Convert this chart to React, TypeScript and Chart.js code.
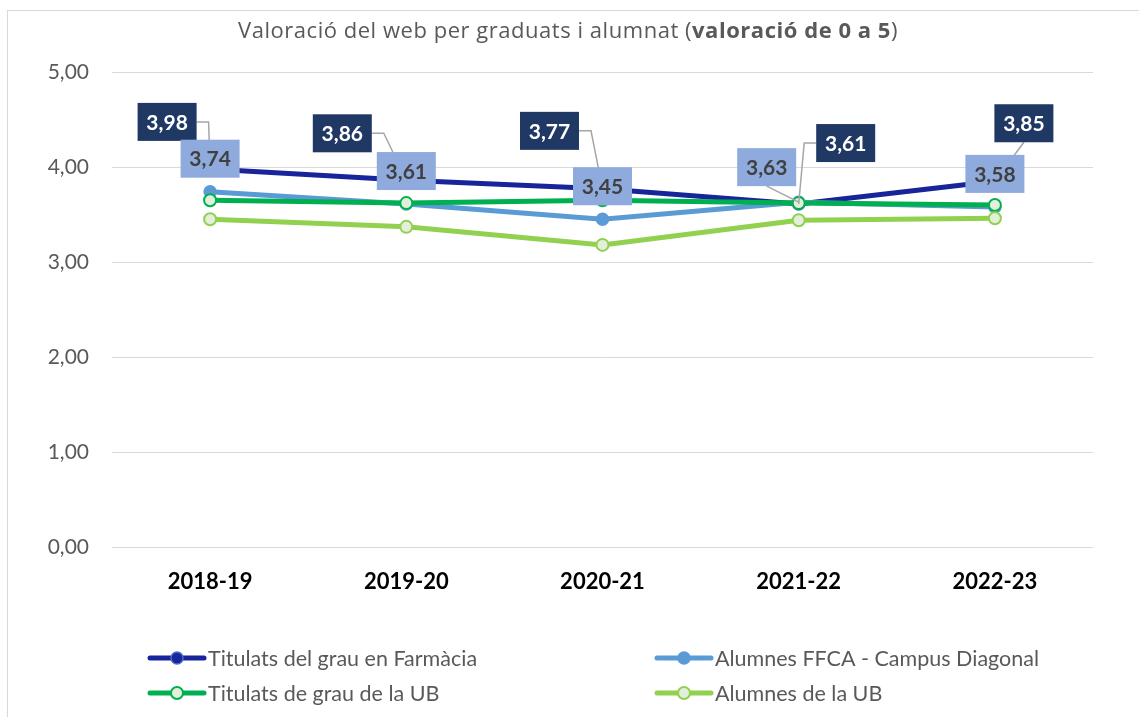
import React, { useEffect, useRef } from "react";
import { Chart, registerables } from "chart.js";

Chart.register(...registerables);

const categories = ["2018-19", "2019-20", "2020-21", "2021-22", "2022-23"];
const titulatsFarmacia = [3.98, 3.86, 3.77, 3.61, 3.85];
const alumnesFFCA = [3.74, 3.61, 3.45, 3.63, 3.58];
const titulatsUB = [3.65, 3.62, 3.65, 3.62, 3.6];
const alumnesUB = [3.45, 3.37, 3.18, 3.44, 3.46];
const seriesNames = [
  "Titulats del grau en Farmàcia",
  "Alumnes FFCA - Campus Diagonal",
  "Titulats de grau de la UB",
  "Alumnes de la UB",
];
const yTicks = [0, 1, 2, 3, 4, 5];

const FONT = "Lato, 'Open Sans', sans-serif";
const TITLE_FONT = "'Open Sans', Lato, sans-serif";
const fmt = (v: number) => v.toFixed(2).replace(".", ",");

// label placement styles (offset of box centre from point, leader type)
const farmLabelStyle = [
  { dx: -43, dy: -47, leader: "side" },
  { dx: -64, dy: -47, leader: "side" },
  { dx: -53, dy: -58, leader: "side" },
  { dx: 47, dy: -61, leader: "side" },
  { dx: 29, dy: -58, leader: "bottom" },
];
const ffcaLabelStyle = [
  { dx: 0, dy: -33, leader: "none" },
  { dx: 0, dy: -33, leader: "none" },
  { dx: 0, dy: -33, leader: "none" },
  { dx: -32, dy: -35, leader: "bottom" },
  { dx: 0, dy: -33, leader: "none" },
];

const styles = [
  { line: "#17249A", fill: "#17249A", border: "#4a6cc8", bw: 1.5 },
  { line: "#5B9BD5", fill: "#5B9BD5", border: "#5B9BD5", bw: 1.5 },
  { line: "#00B050", fill: "#E2EFDA", border: "#00B050", bw: 2 },
  { line: "#92D050", fill: "#E2EFDA", border: "#92D050", bw: 2 },
];

const frameTitlePlugin = {
  id: "frameTitle",
  beforeDraw(chart: any) {
    const ctx = chart.ctx;
    ctx.save();
    ctx.fillStyle = "#ffffff";
    ctx.fillRect(0, 0, chart.width, chart.height);
    ctx.strokeStyle = "#d9d9d9";
    ctx.lineWidth = 1;
    ctx.strokeRect(7.5, 10.5, chart.width + 20, chart.height + 20);
    // title
    const parts = [
      { t: "Valoració del web per graduats i alumnat (", b: false },
      { t: "valoració de 0 a 5", b: true },
      { t: ")", b: false },
    ];
    const size = 22;
    let total = 0;
    let chars = 0;
    for (const p of parts) {
      ctx.font = `${p.b ? "bold " : ""}${size}px ${TITLE_FONT}`;
      total += ctx.measureText(p.t).width;
      chars += p.t.length;
    }
    const targetW = 660;
    const ls = Math.max(-1, Math.min(2, (targetW - total) / chars));
    try {
      ctx.letterSpacing = `${ls}px`;
    } catch (e) {}
    total = 0;
    for (const p of parts) {
      ctx.font = `${p.b ? "bold " : ""}${size}px ${TITLE_FONT}`;
      total += ctx.measureText(p.t).width;
    }
    let x = 568 - total / 2;
    ctx.fillStyle = "#595959";
    ctx.textBaseline = "alphabetic";
    ctx.textAlign = "left";
    for (const p of parts) {
      ctx.font = `${p.b ? "bold " : ""}${size}px ${TITLE_FONT}`;
      ctx.fillText(p.t, x, 38);
      x += ctx.measureText(p.t).width;
    }
    ctx.restore();
  },
};

function drawBox(ctx: any, cx: number, cy: number, text: string, bg: string, fg: string) {
  const w = 59, h = 38;
  ctx.fillStyle = bg;
  ctx.fillRect(cx - w / 2, cy - h / 2, w, h);
  ctx.fillStyle = fg;
  ctx.font = `bold 21px ${FONT}`;
  ctx.textAlign = "center";
  ctx.textBaseline = "middle";
  ctx.fillText(text, cx, cy + 1);
}

function drawLeader(ctx: any, px: number, py: number, cx: number, cy: number, type: string) {
  if (type === "none") return;
  const w = 59, h = 38;
  ctx.strokeStyle = "#a6a6a6";
  ctx.lineWidth = 1.5;
  ctx.beginPath();
  if (type === "side") {
    const sx = px > cx ? cx + w / 2 : cx - w / 2;
    const dir = px > cx ? 1 : -1;
    ctx.moveTo(sx, cy);
    ctx.lineTo(sx + dir * 12, cy);
    ctx.lineTo(px, py);
  } else {
    ctx.moveTo(cx, cy + h / 2);
    ctx.lineTo(px, py);
  }
  ctx.stroke();
}

const labelsPlugin = {
  id: "dataLabelsCustom",
  afterDatasetsDraw(chart: any) {
    const ctx = chart.ctx;
    ctx.save();
    const groups = [
      { idx: 0, vals: titulatsFarmacia, st: farmLabelStyle, bg: "#203864", fg: "#ffffff" },
      { idx: 1, vals: alumnesFFCA, st: ffcaLabelStyle, bg: "#8FAADC", fg: "#404040" },
    ];
    for (const g of groups) {
      const meta = chart.getDatasetMeta(g.idx);
      meta.data.forEach((pt: any, i: number) => {
        const s = g.st[i];
        drawLeader(ctx, pt.x, pt.y, pt.x + s.dx, pt.y + s.dy, s.leader);
      });
      meta.data.forEach((pt: any, i: number) => {
        const s = g.st[i];
        drawBox(ctx, pt.x + s.dx, pt.y + s.dy, fmt(g.vals[i]), g.bg, g.fg);
      });
    }
    ctx.restore();
  },
};

const legendPlugin = {
  id: "legendCustom",
  afterDraw(chart: any) {
    const ctx = chart.ctx;
    ctx.save();
    const pos = [
      { x: 148, y: 658 },
      { x: 655, y: 658 },
      { x: 148, y: 693 },
      { x: 655, y: 693 },
    ];
    seriesNames.forEach((name, i) => {
      const p = pos[i];
      const s = styles[i];
      ctx.strokeStyle = s.line;
      ctx.lineWidth = 5;
      ctx.lineCap = "round";
      ctx.beginPath();
      ctx.moveTo(p.x + 2, p.y);
      ctx.lineTo(p.x + 56, p.y);
      ctx.stroke();
      ctx.beginPath();
      ctx.arc(p.x + 29, p.y, 6, 0, Math.PI * 2);
      ctx.fillStyle = s.fill;
      ctx.fill();
      ctx.lineWidth = s.bw;
      ctx.strokeStyle = s.border;
      ctx.stroke();
      ctx.fillStyle = "#595959";
      ctx.font = `21.5px ${FONT}`;
      ctx.textAlign = "left";
      ctx.textBaseline = "middle";
      ctx.fillText(name, p.x + 60, p.y + 1);
    });
    ctx.restore();
  },
};

export default function App() {
  const ref = useRef<HTMLCanvasElement>(null);
  useEffect(() => {
    if (!ref.current) return;
    const allData = [titulatsFarmacia, alumnesFFCA, titulatsUB, alumnesUB];
    const chart = new Chart(ref.current, {
      type: "line",
      data: {
        labels: categories,
        datasets: allData.map((d, i) => ({
          label: seriesNames[i],
          data: d,
          borderColor: styles[i].line,
          backgroundColor: styles[i].fill,
          borderWidth: 5,
          pointRadius: 6,
          pointBackgroundColor: styles[i].fill,
          pointBorderColor: styles[i].border,
          pointBorderWidth: styles[i].bw,
          tension: 0,
          fill: false,
          order: 4 - i,
        })),
      },
      options: {
        animation: false,
        responsive: false,
        layout: { padding: { top: 72, right: 46, bottom: 110, left: 0 } },
        plugins: {
          legend: { display: false },
          title: { display: false },
          tooltip: { enabled: false },
        },
        scales: {
          x: {
            offset: true,
            grid: { display: false, drawTicks: false },
            border: { display: false },
            ticks: {
              color: "#000000",
              font: { family: FONT, size: 22, weight: "bold" },
              padding: 22,
              maxRotation: 0,
            },
            afterFit: (s: any) => {
              s.height = 60;
            },
          },
          y: {
            min: 0,
            max: 5,
            afterBuildTicks: (s: any) => {
              s.ticks = yTicks.map((v) => ({ value: v }));
            },
            grid: { color: "#d9d9d9", lineWidth: 1, drawTicks: false },
            border: { display: false },
            ticks: {
              color: "#595959",
              font: { family: FONT, size: 21 },
              padding: 23,
              callback: (v: any) => fmt(Number(v)),
            },
            afterFit: (s: any) => {
              s.width = 112;
            },
          },
        },
      },
      plugins: [frameTitlePlugin, labelsPlugin, legendPlugin],
    });
    return () => chart.destroy();
  }, []);
  return (
    <div style={{ position: "fixed", left: 0, top: 0, width: 1139, height: 717, background: "#fff" }}>
      <canvas ref={ref} width={1139} height={717} style={{ display: "block" }} />
    </div>
  );
}
